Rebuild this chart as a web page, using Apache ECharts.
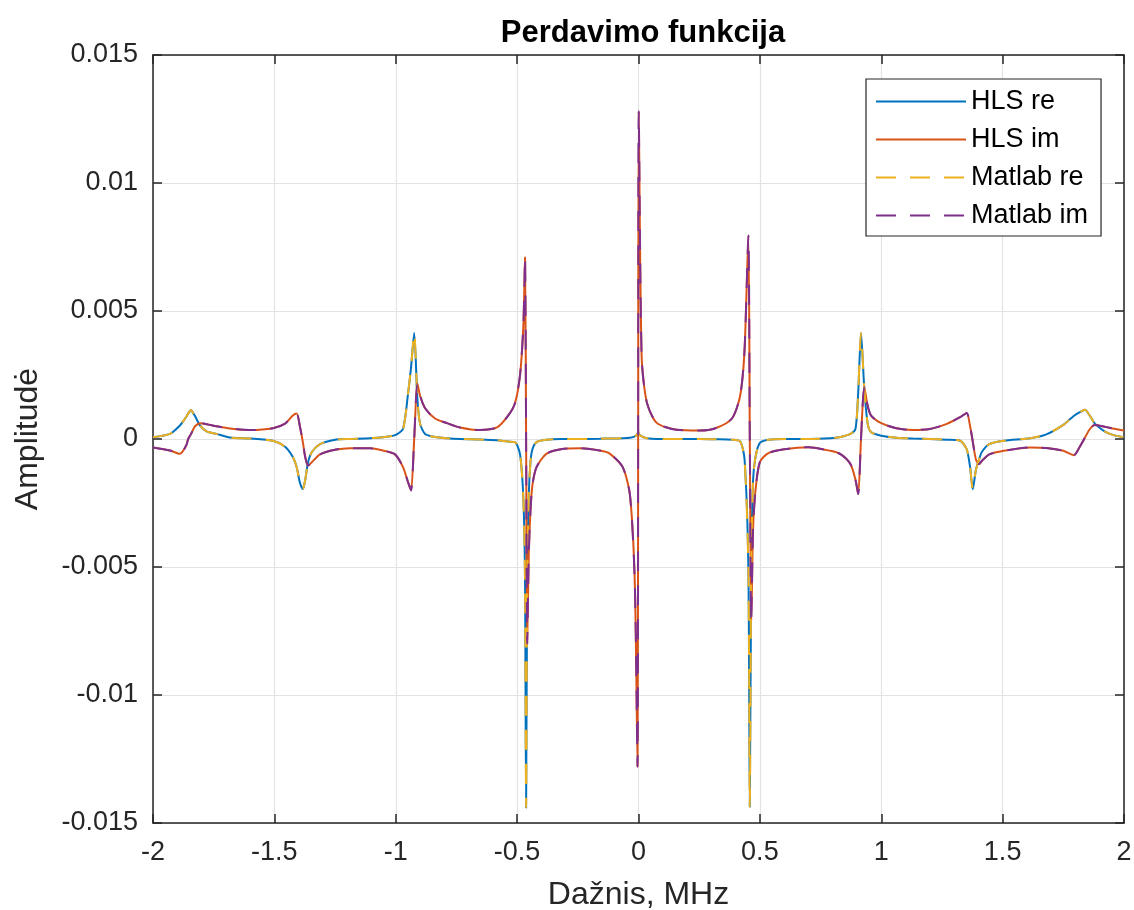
<!DOCTYPE html>
<html>
<head>
<meta charset="utf-8">
<script src="https://cdn.jsdelivr.net/npm/echarts@6/dist/echarts.min.js"></script>
<style>
html, body { margin: 0; padding: 0; background: #fff; }
#chart { width: 1134px; height: 910px; }
</style>
</head>
<body>
<div id="chart"></div>
<script>
// dažnis, MHz
var freq = [
  -2.000, -1.930, -1.889, -1.875, -1.861, -1.855, -1.843, -1.834, -1.827, -1.806,
  -1.779, -1.738, -1.683, -1.600, -1.506, -1.456, -1.424, -1.408, -1.395, -1.383,
  -1.373, -1.361, -1.345, -1.312, -1.250, -1.188, -1.106, -1.053, -1.003, -0.970,
  -0.949, -0.937, -0.924, -0.911, -0.900, -0.879, -0.838, -0.789, -0.735, -0.653,
  -0.583, -0.538, -0.509, -0.488, -0.474, -0.4675, -0.463, -0.4585, -0.452, -0.445,
  -0.437, -0.420, -0.380, -0.320, -0.240, -0.160, -0.120, -0.065, -0.035, -0.015,
  -0.004, -0.0015, 0.001, 0.013, 0.034, 0.075, 0.157, 0.252, 0.317, 0.385,
  0.419, 0.437, 0.4525, 0.4585, 0.4645, 0.472, 0.482, 0.500, 0.535, 0.600,
  0.700, 0.790, 0.832, 0.873, 0.894, 0.905, 0.9166, 0.930, 0.944, 0.959,
  1.000, 1.062, 1.130, 1.200, 1.270, 1.325, 1.352, 1.366, 1.377, 1.390,
  1.403, 1.415, 1.445, 1.505, 1.615, 1.680, 1.750, 1.794, 1.818, 1.839,
  1.860, 1.880, 1.920, 1.960, 2.000
];

var hlsRe = [
  0.00007, 0.0002, 0.00053, 0.0007, 0.0009, 0.001, 0.00113, 0.001, 0.0009, 0.00052,
  0.0003, 0.0002, 0.00006, 0.00002, -0.00007, -0.0003, -0.0007, -0.0011, -0.0017, -0.00195,
  -0.0016, -0.0009, -0.0005, -0.0002, -0.00003, 0, 0.00003, 0.00007, 0.00015, 0.0004,
  0.0018, 0.0028, 0.00414, 0.0016, 0.0006, 0.0002, 0.00008, 0.00003, 0, -0.00002,
  -0.00005, -0.0001, -0.00012, -0.0006, -0.0024, -0.0055, -0.0144, -0.0055, -0.0022, -0.0009,
  -0.0004, -0.00012, -0.00003, 0, 0, 0.00001, 0.00002, 0.00003, 0.00005, 0.0001,
  0.0002, 0.0003, 0.0002, 0.0001, 0.00003, 0, 0, 0, -0.00001, -0.00003,
  -0.0001, -0.0008, -0.005, -0.01437, -0.005, -0.0016, -0.0007, -0.00015, -0.00003, 0,
  0, 0.00003, 0.00008, 0.0002, 0.0004, 0.0018, 0.00414, 0.002, 0.0006, 0.00026,
  0.00013, 0.00005, 0.00002, 0, -0.00003, -0.00007, -0.0004, -0.0011, -0.00196, -0.0012,
  -0.0008, -0.0005, -0.0002, -0.00007, 0.00003, 0.00018, 0.00055, 0.00091, 0.00105, 0.00114,
  0.0009, 0.0006, 0.0003, 0.00014, 0.00007
];

var hlsIm = [
  -0.00033, -0.00045, -0.00058, -0.00045, -0.0002, 0.0, 0.0002, 0.00038, 0.0005, 0.00062,
  0.00058, 0.0005, 0.00041, 0.00035, 0.00042, 0.0006, 0.00092, 0.001, 0.0005, -0.0001,
  -0.0007, -0.00104, -0.0009, -0.0006, -0.00042, -0.00036, -0.00036, -0.00045, -0.0006, -0.0011,
  -0.0017, -0.00201, 0.0, 0.00217, 0.0017, 0.0012, 0.0008, 0.00062, 0.00045, 0.00035,
  0.00045, 0.0009, 0.0014, 0.0025, 0.0045, 0.0071, 0.0, -0.008, -0.0045, -0.0028,
  -0.0018, -0.0011, -0.00058, -0.0004, -0.00036, -0.00045, -0.00056, -0.0011, -0.0022, -0.0057,
  -0.0128, 0, 0.0128, 0.0032, 0.00144, 0.00063, 0.00036, 0.00033, 0.00042, 0.0008,
  0.0017, 0.0035, 0.00795, 0, -0.0071, -0.0035, -0.002, -0.0009, -0.00055, -0.0004,
  -0.00032, -0.00046, -0.00059, -0.00098, -0.0016, -0.00215, 0, 0.00202, 0.0013, 0.0009,
  0.00062, 0.00042, 0.00035, 0.00039, 0.00059, 0.00085, 0.00102, 0.0005, -0.0001, -0.0008,
  -0.00098, -0.00085, -0.0006, -0.00046, -0.00033, -0.00035, -0.00046, -0.00063, -0.0003, 0.00005,
  0.0004, 0.00055, 0.00048, 0.0004, 0.00033
];

// Matlab curves lie on top of the HLS ones
var matlabRe = hlsRe.slice();
var matlabIm = hlsIm.slice();

var seriesNames = ['HLS re', 'HLS im', 'Matlab re', 'Matlab im'];
var colors = ['#0072BD', '#D95319', '#EDB120', '#7E2F8E'];

function pairs(ys) {
  var out = [];
  for (var i = 0; i < freq.length; i++) out.push([freq[i], ys[i]]);
  return out;
}

var txt = '#262626';
var font = 'Liberation Sans, Arial, Helvetica, sans-serif';

function axisCommon(extra) {
  var a = {
    axisLine: { show: true, onZero: false, lineStyle: { color: txt, width: 1.5 } },
    axisTick: { show: true, inside: true, length: 9, lineStyle: { color: txt, width: 1.5 } },
    splitLine: { show: false },
    axisLabel: { show: false }
  };
  for (var k in extra) a[k] = extra[k];
  return a;
}

function mkSeries(name, ys, i, dashed) {
  return {
    name: name, type: 'line', data: pairs(ys),
    symbol: 'none', showSymbol: false,
    smooth: 0.25,
    lineStyle: { color: colors[i], width: 2, type: dashed ? [20, 14] : 'solid' },
    itemStyle: { color: colors[i] }
  };
}

var chart = echarts.init(document.getElementById('chart'), null, { renderer: 'canvas' });

var option = {
  backgroundColor: '#ffffff',
  animation: false,
  color: colors,
  textStyle: { fontFamily: font },
  title: {
    text: 'Perdavimo funkcija',
    left: 638,
    textAlign: 'center',
    top: 13,
    textStyle: { fontFamily: font, fontWeight: 'bold', fontSize: 31, color: '#000' }
  },
  grid: { left: 153, right: 10, top: 55, bottom: 87, containLabel: false, outerBoundsMode: 'none' },
  legend: {
    orient: 'vertical',
    left: 866,
    top: 79,
    padding: [9, 13, 7, 9],
    itemWidth: 90,
    itemHeight: 14,
    itemGap: 11,
    backgroundColor: '#ffffff',
    borderColor: txt,
    borderWidth: 1.2,
    itemStyle: { opacity: 0 },
    textStyle: { fontFamily: font, fontSize: 27, color: '#000' },
    data: seriesNames
  },
  xAxis: [
    axisCommon({
      type: 'value',
      min: -2, max: 2, interval: 0.5,
      position: 'bottom',
      name: 'Dažnis, MHz',
      nameLocation: 'middle',
      nameGap: 56,
      nameTextStyle: { fontFamily: font, fontSize: 32, color: txt },
      axisLabel: {
        show: true, margin: 16, fontSize: 27, color: txt, fontFamily: font,
        formatter: function (v) { return String(+v.toFixed(2)); }
      },
      splitLine: { show: true, lineStyle: { color: '#e3e3e3', width: 1.2 } }
    }),
    axisCommon({ type: 'value', min: -2, max: 2, interval: 0.5, position: 'top' })
  ],
  yAxis: [
    axisCommon({
      type: 'value',
      min: -0.015, max: 0.015, interval: 0.005,
      position: 'left',
      name: 'Amplitudė',
      nameLocation: 'middle',
      nameGap: 109,
      nameRotate: 90,
      nameTextStyle: { fontFamily: font, fontSize: 32, color: txt },
      axisLabel: {
        show: true, margin: 15, fontSize: 27, color: txt, fontFamily: font,
        formatter: function (v) { return String(+v.toFixed(3)); }
      },
      splitLine: { show: true, lineStyle: { color: '#e3e3e3', width: 1.2 } }
    }),
    axisCommon({ type: 'value', min: -0.015, max: 0.015, interval: 0.005, position: 'right' })
  ],
  series: [
    mkSeries('HLS re', hlsRe, 0, false),
    mkSeries('HLS im', hlsIm, 1, false),
    mkSeries('Matlab re', matlabRe, 2, true),
    mkSeries('Matlab im', matlabIm, 3, true)
  ]
};

chart.setOption(option);
</script>
</body>
</html>
